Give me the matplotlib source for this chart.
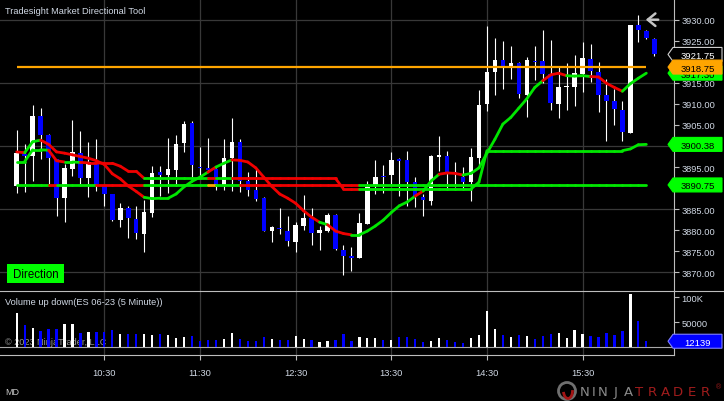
import numpy as np
import pandas as pd
import matplotlib
matplotlib.use('Agg')
import matplotlib.pyplot as plt
from matplotlib.collections import LineCollection
from matplotlib.patches import Polygon, Rectangle, Ellipse, Arc
from matplotlib.lines import Line2D
from matplotlib.ticker import FuncFormatter
from matplotlib import transforms

plt.rcParams['font.family'] = ['Liberation Sans', 'DejaVu Sans']

# ---- 5 minute bars, ES 06-23 ----
opens = [3890.6, 3898.0, 3897.7, 3907.1, 3902.6, 3896.9, 3887.7, 3894.5, 3898.3, 3892.4,
         3896.1, 3890.6, 3888.6, 3882.5, 3885.2, 3882.7, 3879.1, 3884.1, 3893.8, 3893.1,
         3894.3, 3900.7, 3905.5, 3895.1, 3894.8, 3894.5, 3890.6, 3897.2, 3900.9, 3891.8,
         3889.5, 3887.6, 3879.9, 3880.5, 3879.9, 3877.3, 3881.1, 3882.9, 3879.3, 3879.9,
         3883.6, 3875.3, 3873.9, 3873.3, 3881.5, 3890.7, 3892.9, 3893.0, 3896.9, 3896.7,
         3891.5, 3888.0, 3887.0, 3897.5, 3897.7, 3893.8, 3892.6, 3891.5, 3897.2, 3910.0,
         3917.6, 3920.4, 3919.1, 3919.7, 3912.1, 3920.2, 3920.3, 3917.1, 3910.0, 3913.9,
         3914.0, 3917.1, 3920.7, 3917.6, 3912.1, 3910.6, 3908.6, 3903.2, 3928.7, 3927.4,
         3925.4]
highs = [3903.8, 3900.5, 3909.7, 3909.0, 3902.9, 3896.9, 3895.7, 3906.2, 3903.6, 3901.0,
         3901.7, 3890.6, 3888.7, 3886.5, 3885.8, 3885.8, 3887.2, 3895.2, 3895.2, 3901.8,
         3902.6, 3905.9, 3905.9, 3899.7, 3901.9, 3894.8, 3901.7, 3906.6, 3901.7, 3893.8,
         3894.5, 3887.8, 3881.1, 3885.3, 3883.3, 3881.9, 3888.4, 3885.3, 3881.1, 3884.0,
         3883.8, 3876.5, 3876.1, 3884.0, 3891.8, 3896.7, 3895.6, 3898.5, 3897.1, 3898.9,
         3892.6, 3888.6, 3897.9, 3902.4, 3898.9, 3896.1, 3894.9, 3899.5, 3913.3, 3928.6,
         3925.7, 3925.0, 3923.8, 3920.0, 3921.1, 3923.8, 3927.6, 3925.2, 3918.7, 3919.7,
         3921.7, 3924.8, 3924.2, 3920.0, 3915.9, 3913.5, 3910.8, 3928.7, 3931.1, 3927.6,
         3925.6]
lows = [3888.8, 3889.1, 3891.8, 3896.9, 3891.0, 3883.4, 3882.0, 3892.8, 3891.0, 3888.0,
        3889.4, 3885.7, 3882.3, 3880.8, 3878.1, 3877.9, 3874.9, 3883.1, 3888.2, 3888.8,
        3890.6, 3898.6, 3892.3, 3892.8, 3894.0, 3889.6, 3889.6, 3889.4, 3889.1, 3888.2,
        3887.0, 3879.9, 3877.3, 3879.1, 3876.3, 3874.9, 3880.1, 3876.5, 3875.4, 3879.6,
        3875.3, 3869.4, 3870.4, 3873.3, 3881.5, 3888.6, 3888.8, 3891.0, 3888.2, 3885.7,
        3885.4, 3883.4, 3886.0, 3894.1, 3889.8, 3890.2, 3889.8, 3887.0, 3895.3, 3908.4,
        3912.2, 3913.5, 3915.9, 3911.4, 3906.8, 3915.7, 3914.9, 3908.6, 3906.7, 3908.6,
        3909.4, 3912.8, 3915.1, 3908.0, 3901.3, 3905.1, 3901.3, 3903.2, 3924.8, 3925.4,
        3921.4]
closes = [3898.3, 3897.7, 3907.2, 3902.7, 3897.1, 3887.7, 3894.8, 3898.6, 3892.4, 3896.1,
          3890.6, 3888.6, 3882.5, 3885.3, 3882.8, 3879.3, 3884.3, 3893.6, 3893.2, 3894.5,
          3900.5, 3905.2, 3895.6, 3894.8, 3894.3, 3890.8, 3897.2, 3900.9, 3891.7, 3889.5,
          3887.4, 3879.9, 3880.8, 3880.3, 3877.5, 3881.2, 3882.9, 3879.3, 3880.0, 3883.6,
          3875.5, 3873.8, 3873.5, 3881.7, 3890.2, 3892.6, 3892.6, 3896.7, 3896.5, 3891.5,
          3888.1, 3887.2, 3897.7, 3897.7, 3893.8, 3893.4, 3891.5, 3897.3, 3909.7, 3917.6,
          3920.4, 3919.1, 3919.7, 3912.4, 3920.4, 3920.0, 3917.1, 3910.2, 3914.0, 3914.2,
          3917.3, 3920.8, 3917.9, 3912.2, 3910.8, 3908.8, 3903.4, 3928.7, 3927.5, 3925.6,
          3921.75]
volumes = [69000, 44700, 38700, 32700, 36700, 36700, 47300, 47300, 28700, 30700,
           30700, 30700, 34700, 27300, 27300, 27300, 27300, 25300, 27300, 24700,
           19300, 20700, 22700, 13300, 14700, 14700, 16700, 28700, 16700, 12700,
           12700, 20700, 16700, 14700, 14700, 22700, 16700, 14700, 10700, 12700,
           14700, 26700, 12700, 20700, 18700, 18700, 14700, 14700, 20700, 20700,
           16700, 10700, 12700, 18700, 14700, 10700, 8700, 18700, 24700, 73300,
           36700, 24700, 20700, 24700, 22700, 16700, 22700, 26700, 28700, 18700,
           34700, 26700, 22700, 20700, 28700, 24700, 32700, 107000, 52000, 12139]

# ---- Directional tool lines ----
fast_line = [3898.6, 3898.4, 3901.0, 3901.4, 3900.4, 3898.6, 3898.3, 3897.9, 3897.5, 3897.1,
             3896.5, 3895.6, 3893.4, 3892.2, 3890.5, 3889.2, 3887.8, 3887.5, 3887.6, 3887.6,
             3888.6, 3890.3, 3891.6, 3892.6, 3893.8, 3895.0, 3895.9, 3896.7, 3896.6, 3896.2,
             3894.8, 3892.6, 3890.4, 3888.6, 3887.6, 3886.4, 3884.6, 3883.1, 3881.9, 3881.3,
             3879.8, 3879.2, 3878.9, 3878.9, 3879.8, 3881.0, 3882.4, 3884.2, 3885.8, 3886.7,
             3888.1, 3889.3, 3891.7, 3893.3, 3893.6, 3893.5, 3893.1, 3893.5, 3894.8, 3898.3,
             3901.6, 3905.2, 3906.8, 3909.0, 3911.2, 3913.9, 3915.5, 3916.9, 3917.3, 3916.7,
             3916.6, 3916.7, 3916.5, 3916.4, 3914.9, 3913.9, 3913.0, 3914.8, 3916.1, 3917.3]
step_line = [3896.3, 3896.3, 3899.1, 3899.1, 3899.0, 3896.5, 3896.2, 3896.2, 3896.1, 3896.0,
             3896.0, 3895.9, 3895.9, 3895.2, 3894.0, 3894.0, 3892.3, 3892.3, 3892.3, 3892.3,
             3892.3, 3892.3, 3892.3, 3892.3, 3892.3, 3892.3, 3892.3, 3892.3, 3892.3, 3892.3,
             3892.3, 3892.3, 3892.3, 3892.3, 3892.3, 3892.3, 3892.3, 3892.3, 3892.3, 3892.3,
             3892.3, 3889.8, 3889.8, 3889.8, 3889.8, 3889.8, 3889.8, 3889.8, 3889.8, 3889.8,
             3889.8, 3889.8, 3889.8, 3889.8, 3889.8, 3889.8, 3889.8, 3889.8, 3891.4, 3898.9,
             3898.9, 3898.9, 3898.9, 3898.9, 3898.9, 3898.9, 3898.9, 3898.9, 3898.9, 3898.9,
             3898.9, 3898.9, 3898.9, 3898.9, 3898.9, 3898.9, 3898.9, 3899.3, 3900.3, 3900.38]
level_green = 3890.75
level_orange = 3918.75

# segment colours (runs of g=green, r=red, o=orange)
fast_runs = [('r', 1), ('g', 2), ('r', 13), ('g', 8), ('r', 1), ('g', 2), ('r', 11), ('g', 1),
             ('r', 3), ('g', 8), ('r', 1), ('g', 2), ('r', 3), ('g', 10), ('r', 3), ('g', 3),
             ('r', 4), ('g', 3)]
step_runs = [('g', 4), ('r', 2), ('g', 2), ('r', 8), ('g', 8), ('r', 1), ('g', 2), ('r', 16), ('g', 36)]
level_runs = [('g', 4), ('r', 1), ('g', 5), ('r', 6), ('g', 8), ('o', 1), ('g', 3), ('r', 15), ('g', 36)]

bar_times = pd.date_range('2023-05-01 09:35', periods=len(closes), freq='5min')

# ---- styling ----
TXT = '#d0d8e4'
GRID = '#383838'
SPINE = '#bdbdbd'
UP, DOWN = 'white', '#0000ff'
LINE_COL = {'g': '#00e600', 'r': '#f00000', 'o': '#ffa500'}

W, H = 724, 402
fig = plt.figure(figsize=(W / 100, H / 100), dpi=100, facecolor='black')


def fx(px):
    return px / W


def fy(py):
    return 1 - py / H


# pixel <-> value mapping of the reference
def py_to_price(py):
    return 3930 - (py - 20.7) / 4.21


def px_to_bar(px):
    return (px - 16.7) / 7.97


ax = fig.add_axes([0, fy(292), fx(674), 292 / H], facecolor='black')
vol = fig.add_axes([0, fy(356), fx(674), 64 / H], facecolor='black', sharex=ax)
ax.set_xlim(px_to_bar(0), px_to_bar(674))
ax.set_ylim(py_to_price(292), py_to_price(0))
vol.set_ylim(-15400, 112600)

# grid
tick_idx = [i for i, t in enumerate(bar_times) if t.minute == 30]
for p in [3870, 3885, 3900, 3915, 3930]:
    ax.axhline(p, color=GRID, lw=0.9, zorder=0)
for i in tick_idx:
    ax.axvline(i, color=GRID, lw=0.9, zorder=0)
    vol.axvline(i, color=GRID, lw=0.9, zorder=0)

# candles
o, h, l, c = map(np.array, (opens, highs, lows, closes))
idx = np.arange(len(c))
cols = np.where(c >= o, UP, DOWN)
ax.vlines(idx, l, h, color='white', lw=0.8, zorder=2)
ax.bar(idx, np.maximum(np.abs(c - o), 0.3), bottom=np.minimum(o, c), width=0.56,
       color=cols, edgecolor='none', zorder=3)


def colored_line(axis, ys, runs, lw=2.0, z=5):
    seg = ''.join(ch * k for ch, k in runs)
    pts = np.column_stack([np.arange(len(ys)), ys])
    segs = np.stack([pts[:-1], pts[1:]], axis=1)
    lc = LineCollection(segs, colors=[LINE_COL[ch] for ch in seg], linewidths=lw,
                        zorder=z, capstyle='round')
    axis.add_collection(lc)


nl = len(fast_line)
ax.hlines(level_orange, 0, nl - 1, color='#ffa500', lw=1.6, zorder=4)
colored_line(ax, np.full(nl, level_green), level_runs, z=5)
colored_line(ax, step_line, step_runs, z=6)
colored_line(ax, fast_line, fast_runs, z=7)

# volume
nv = len(volumes)
vol.axhline(0, color='#a8a8a8', lw=0.8, zorder=1)
vol.bar(idx[:nv], volumes, width=0.28, color=cols[:nv], edgecolor='none', zorder=3)
vol.text(fx(5), fy(343), '\u00a9 2023 NinjaTrader, LLC', transform=fig.transFigure,
         color='#9a9a9a', fontsize=6.6, va='center', zorder=2)

# axes, ticks, spines
for a in (ax, vol):
    a.yaxis.tick_right()
    for s in ('top', 'left', 'bottom'):
        a.spines[s].set_visible(False)
    a.spines['right'].set_color(SPINE)
    a.spines['right'].set_linewidth(0.8)
vol.spines['bottom'].set_visible(True)
vol.spines['bottom'].set_color(SPINE)
vol.spines['bottom'].set_linewidth(0.8)

# price markers sit on top of these axis labels, so those labels stay empty
covered = {3920, 3900, 3890}
ax.set_yticks(np.arange(3870, 3931, 5))
ax.yaxis.set_major_formatter(FuncFormatter(lambda v, pos: '' if round(v) in covered else '%.2f' % v))
ax.tick_params(axis='y', colors=SPINE, labelcolor=TXT, labelsize=6.7, length=3.5, width=0.8, pad=2)
ax.tick_params(axis='x', bottom=False, labelbottom=False)
vol.set_yticks([50000, 100000])
vol.set_yticklabels(['50000', '100K'])
vol.tick_params(axis='y', colors=SPINE, labelcolor=TXT, labelsize=6.7, length=3.5, width=0.8, pad=2)
vol.set_xticks(tick_idx)
vol.set_xticklabels([bar_times[i].strftime('%H:%M') for i in tick_idx])
vol.tick_params(axis='x', colors=SPINE, labelcolor=TXT, labelsize=6.7, length=3.5, width=0.8, pad=6)

fig.add_artist(Line2D([0, 1], [fy(292), fy(292)], transform=fig.transFigure, color=SPINE, lw=0.8))


# price markers on the right axis
def price_tag(axis, value, label, face, fg, edge=None, unit_px=4.21, z=20):
    hh = 7 / unit_px
    tr = transforms.blended_transform_factory(fig.transFigure, axis.transData)
    verts = [(fx(668), value), (fx(673), value + hh), (fx(722), value + hh),
             (fx(722), value - hh), (fx(673), value - hh)]
    axis.add_patch(Polygon(verts, closed=True, transform=tr, facecolor=face,
                           edgecolor=edge or face, lw=0.8, clip_on=False, zorder=z))
    axis.text(fx(698), value, label, transform=tr, color=fg, fontsize=6.8, ha='center',
              va='center_baseline', clip_on=False, zorder=z + 0.5)


price_tag(ax, level_green, '%.2f' % level_green, '#00ff00', 'black', z=20)
price_tag(ax, step_line[-1], '%.2f' % step_line[-1], '#00ff00', 'black', z=21)
price_tag(ax, fast_line[-1], '%.2f' % fast_line[-1], '#00ff00', 'black', z=22)
price_tag(ax, closes[-1], '%.2f' % closes[-1], 'black', 'white', edge='#d0d0d0', z=23)
price_tag(ax, level_orange, '%.2f' % level_orange, '#ffa500', 'black', z=24)
price_tag(vol, volumes[-1], str(volumes[-1]), '#0000ff', 'white', edge='#8080ff',
          unit_px=1 / 2000, z=20)

# arrow at the last bar
ax.annotate('', xy=(643, H - 20.7), xytext=(661, H - 20.7), xycoords='figure pixels',
            textcoords='figure pixels',
            arrowprops=dict(arrowstyle='->,head_length=0.55,head_width=0.45', color='#c4c4c4', lw=1.8))

# texts
fig.text(fx(5), fy(11), 'Tradesight Market Directional Tool', color=TXT, fontsize=6.7, va='center')
fig.text(fx(5), fy(303), 'Volume up down(ES 06-23 (5 Minute))', color=TXT, fontsize=6.7, va='center')
fig.text(fx(5), fy(393), 'MD', color='#c8c8c8', fontsize=6.5, va='center')
fig.add_artist(Rectangle((fx(7), fy(284)), fx(64) - fx(7), 19 / H, transform=fig.transFigure,
                         facecolor='#00ff00', edgecolor='none'))
fig.text(fx(35.5), fy(274.5), 'Direction', color='black', fontsize=8.3, ha='center', va='center')

# NinjaTrader logo
fig.add_artist(Ellipse((fx(567), fy(392)), 17 / W, 17 / H, transform=fig.transFigure,
                       facecolor='none', edgecolor='#6f6f6f', lw=2.0))
fig.add_artist(Arc((fx(568), fy(392)), 9 / W, 15 / H, theta1=200, theta2=20, transform=fig.transFigure,
                   color='#a31515', lw=2.0))
letters = ['N', 'I', 'N', 'J', 'A', 'T', 'R', 'A', 'D', 'E', 'R']
letter_x = [585, 594, 603, 616, 628, 639, 652, 665, 678, 692, 705]
for ch, x in zip(letters, letter_x):
    col = '#8a8a8a' if x < 635 else '#a01c1c'
    fig.text(fx(x), fy(392.5), ch, color=col, fontsize=9.5, ha='center', va='center',
             family='DejaVu Sans')
fig.text(fx(718), fy(388), '\u00ae', color='#a01c1c', fontsize=5, ha='center', va='center')

fig.savefig('out.png', dpi=100, facecolor='black')
